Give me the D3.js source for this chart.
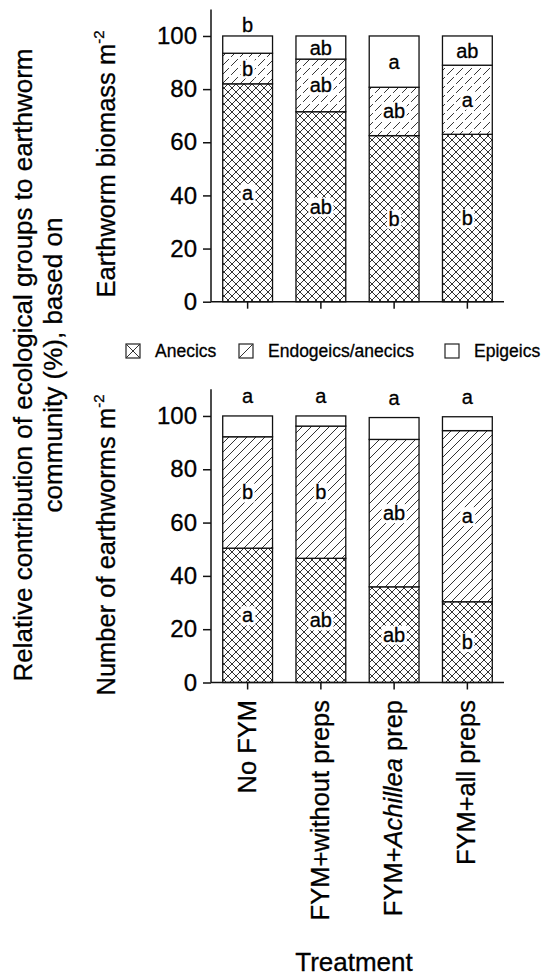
<!DOCTYPE html>
<html>
<head>
<meta charset="utf-8">
<script src="https://cdn.jsdelivr.net/npm/d3@7"></script>
<style>
  body { margin: 0; background: #fff; }
  svg { display: block; font-family: "Liberation Sans", Arial, sans-serif; }
  svg text { fill: #000; stroke: #000; stroke-width: 0.3px; }
</style>
</head>
<body>
<svg width="545" height="976"></svg>
<script>
// категории и значения (в %)
const categories = ["No FYM", "FYM+without preps", "FYM+Achillea prep", "FYM+all preps"];
const groups = ["anecics", "endo", "epi"];
const groupNames = ["Anecics", "Endogeics/anecics", "Epigeics"];

const biomassAnecics = [82, 71.5, 62.5, 63];
const biomassEndo = [11.5, 19.8, 18.2, 26];
const biomassEpi = [6.5, 8.7, 19.3, 11];
const biomassLetters = {
    anecics: ["a", "ab", "b", "b"],
    endo: ["b", "ab", "ab", "a"],
    epi: ["b", "ab", "a", "ab"]
};

const numberAnecics = [50.4, 46.6, 35.9, 30.3];
const numberEndo = [41.8, 49.6, 55.3, 64.2];
const numberEpi = [7.8, 3.8, 8.2, 5.2];
const numberLetters = {
    anecics: ["a", "ab", "ab", "b"],
    endo: ["b", "b", "ab", "a"],
    epi: ["a", "a", "a", "a"]
};

const yTicks = [0, 20, 40, 60, 80, 100];

const svg = d3.select("svg");
const defs = svg.append("defs");

// штриховки
const cross = defs.append("pattern").attr("id", "cross")
    .attr("patternUnits", "userSpaceOnUse").attr("width", 8).attr("height", 8);
cross.append("rect").attr("width", 8).attr("height", 8).attr("fill", "#fff");
cross.append("path").attr("d", "M0,0L8,8M8,0L0,8")
    .attr("stroke", "#333").attr("stroke-width", 1);

function hatch(id, dash) {
    const p = defs.append("pattern").attr("id", id)
        .attr("patternUnits", "userSpaceOnUse").attr("width", 9).attr("height", 9);
    p.append("rect").attr("width", 9).attr("height", 9).attr("fill", "#fff");
    p.append("path").attr("d", "M-1,10L10,-1")
        .attr("stroke", "#333").attr("stroke-width", 1)
        .attr("stroke-dasharray", dash);
}
hatch("diagDash", "7,3");
hatch("diagSolid", null);

const x = d3.scaleBand().domain(categories).range([211, 504])
    .paddingInner(0.32).paddingOuter(0.16);

function drawPanel(anec, endo, epi, letters, yRange, aboveOffset, fillEndo) {
    const table = categories.map((c, i) => ({cat: c, anecics: anec[i], endo: endo[i], epi: epi[i]}));
    const series = d3.stack().keys(groups)(table);
    const y = d3.scaleLinear().domain([0, 110]).range(yRange);
    const fills = {anecics: "url(#cross)", endo: fillEndo, epi: "#fff"};
    const g = svg.append("g");

    series.forEach(s => {
        g.selectAll(null).data(s).join("rect")
            .attr("x", d => x(d.data.cat))
            .attr("width", x.bandwidth())
            .attr("y", d => y(d[1]))
            .attr("height", d => y(d[0]) - y(d[1]))
            .attr("fill", fills[s.key])
            .attr("stroke", "#111")
            .attr("stroke-width", 1.3);
    });

    // буквы значимости
    series.forEach(s => {
        s.forEach((d, i) => {
            const size = d[1] - d[0];
            let ty;
            if (s.key === "epi" && size < 8.5) ty = y(d[1]) - aboveOffset;
            else ty = (y(d[0]) + y(d[1])) / 2 + 7;
            const cx = x(d.data.cat) + x.bandwidth() / 2;
            const lg = g.append("g");
            const t = lg.append("text").attr("x", cx).attr("y", ty)
                .attr("text-anchor", "middle").attr("font-size", 20)
                .text(letters[s.key][i]);
            const bb = t.node().getBBox();
            lg.insert("rect", "text")
                .attr("x", bb.x - 1.5).attr("y", bb.y + 2)
                .attr("width", bb.width + 3).attr("height", bb.height - 3)
                .attr("fill", "#fff");
        });
    });

    const yAxis = g.append("g").attr("transform", "translate(211,0)")
        .call(d3.axisLeft(y).tickValues(yTicks).tickSize(8).tickPadding(6));
    yAxis.select(".domain").attr("d", `M0,${yRange[0]}V${yRange[1]}`);
    const xAxis = g.append("g").attr("transform", `translate(0,${yRange[0]})`)
        .call(d3.axisBottom(x).tickSize(7).tickFormat(""));
    xAxis.select(".domain").attr("d", "M211,0H504");
    g.selectAll(".domain, .tick line").attr("stroke", "#111").attr("stroke-width", 1.5);
    yAxis.selectAll("text").attr("font-size", 24)
        .attr("font-family", "Liberation Sans, Arial, sans-serif");
    return xAxis;
}

drawPanel(biomassAnecics, biomassEndo, biomassEpi, biomassLetters, [301.7, 9.4], 4, "url(#diagDash)");
drawPanel(numberAnecics, numberEndo, numberEpi, numberLetters, [682.5, 389.3], 13, "url(#diagSolid)");

// подписи категорий
categories.forEach(c => {
    const t = svg.append("text")
        .attr("transform", `translate(${x(c) + x.bandwidth() / 2 + 8},700) rotate(-90)`)
        .attr("text-anchor", "end").attr("font-size", 25.5);
    if (c.includes("Achillea")) {
        t.append("tspan").text("FYM+");
        t.append("tspan").attr("font-style", "italic").text("Achillea");
        t.append("tspan").text(" prep");
    } else t.text(c);
});

svg.append("text").attr("x", 354).attr("y", 971).attr("text-anchor", "middle")
    .attr("font-size", 26).text("Treatment");

// подписи осей
function axisTitle(txt, cy) {
    const t = svg.append("text")
        .attr("transform", `translate(115,${cy}) rotate(-90)`)
        .attr("text-anchor", "middle").attr("font-size", 25.5);
    t.append("tspan").text(txt);
    t.append("tspan").attr("font-size", 15).attr("dy", -11).text("-2");
}
axisTitle("Earthworm biomass m", 164);
axisTitle("Number of earthworms m", 545);

const big = svg.append("text").attr("transform", "translate(32,365) rotate(-90)")
    .attr("text-anchor", "middle").attr("font-size", 26);
big.append("tspan").attr("x", 0).attr("y", 0)
    .text("Relative contribution of ecological groups to earthworm");
big.append("tspan").attr("x", 0).attr("y", 29.5)
    .text("community (%), based on");

// легенда
const legendX = [126, 239, 445];
const legend = svg.append("g");
groups.forEach((k, i) => {
    const lx = legendX[i];
    legend.append("rect").attr("x", lx).attr("y", 344).attr("width", 14).attr("height", 14)
        .attr("fill", "#fff").attr("stroke", "#222").attr("stroke-width", 1.2);
    if (k === "anecics")
        legend.append("path").attr("d", `M${lx},344l14,14M${lx + 14},344l-14,14`)
            .attr("stroke", "#333").attr("stroke-width", 1);
    if (k === "endo")
        legend.append("path").attr("d", `M${lx},358l14,-14`)
            .attr("stroke", "#333").attr("stroke-width", 1);
    legend.append("text").attr("x", lx + 29).attr("y", 357)
        .attr("font-size", 17.5).text(groupNames[i]);
});
</script>
</body>
</html>
